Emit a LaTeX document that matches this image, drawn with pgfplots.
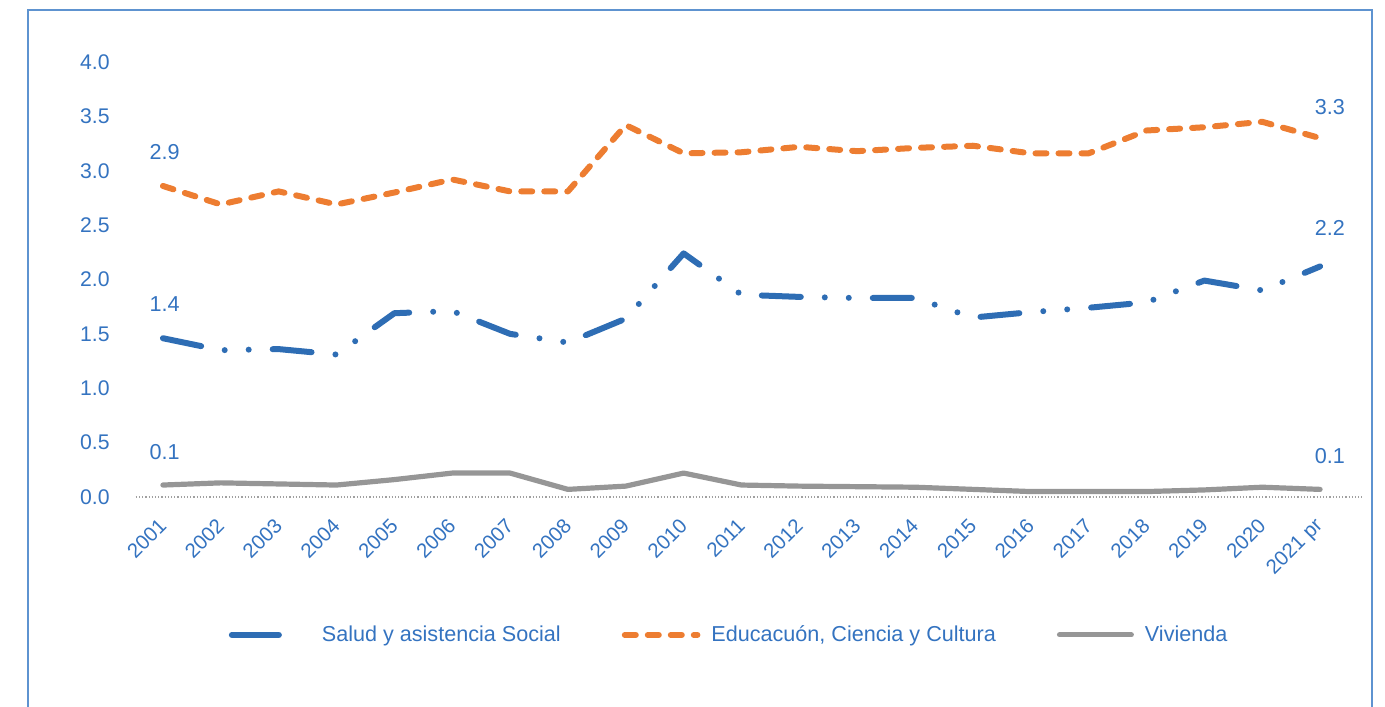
\documentclass[border=0pt]{standalone}
\usepackage{fontspec}
\setmainfont{Liberation Sans}
\usepackage{pgfplots}
\pgfplotsset{compat=1.18}
\definecolor{cblue}{RGB}{46,109,180}
\definecolor{corange}{RGB}{237,125,49}
\definecolor{cgray}{RGB}{150,150,150}
\definecolor{ctext}{RGB}{52,115,192}
\definecolor{cframe}{RGB}{94,147,208}
\definecolor{czero}{RGB}{160,160,160}
\pgfplotsset{
  bluelegend/.style={legend image code/.code={\draw[cblue, solid, line width=3pt, line cap=round] (1.5pt,0pt) -- (25pt,0pt); \path[draw=none] (0pt,0pt) -- (41pt,0pt);}},
  orangelegend/.style={legend image code/.code={\draw[##1] (1.5pt,0pt) -- (37.8pt,0pt); \path[draw=none] (0pt,0pt) -- (39pt,0pt);}},
  graylegend/.style={legend image code/.code={\draw[##1] (1.3pt,0pt) -- (37.2pt,0pt);}},
}
\begin{document}
\fontsize{10.8}{13}\selectfont
\begin{tikzpicture}[x=1pt,y=1pt]
\useasboundingbox (0,0) rectangle (692.5,353);
\draw[cframe, line width=1pt] (14,-10) rectangle (686,348);
\begin{axis}[
  at={(67pt,104.5pt)}, anchor=south west,
  scale only axis, width=607.5pt, height=217.5pt,
  xmin=-0.5, xmax=20.5, ymin=0, ymax=4,
  axis line style={draw=none},
  major tick length=0pt,
  clip=false,
  xtick={0,...,20},
  xticklabels={2001,2002,2003,2004,2005,2006,2007,2008,2009,2010,2011,2012,2013,2014,2015,2016,2017,2018,2019,2020,2021 pr},
  ytick={0,0.5,...,4},
  /pgf/number format/fixed, /pgf/number format/fixed zerofill, /pgf/number format/precision=1, /pgf/number format/assume math mode=true,
  yticklabel style={anchor=east, inner sep=0pt, xshift=-12pt, text=ctext, font=\fontsize{10.6}{13}\selectfont},
  xticklabel style={rotate=45, anchor=east, inner sep=0pt, xshift=-9pt, yshift=-9pt, text=ctext, font=\fontsize{10.2}{12}\selectfont},
  legend columns=3,
  legend style={draw=none, fill=none, at={(0.489,-0.317)}, anchor=center,
    font=\fontsize{10.8}{13}\selectfont, text=ctext,
    nodes={inner sep=0pt}, cells={anchor=west},
    /tikz/every odd column/.append style={column sep=5.5pt},
    /tikz/every even column/.append style={column sep=30.5pt}},
]
\addplot[czero, line width=0.6pt, dash pattern=on 0.6pt off 1pt, forget plot] coordinates {(-0.47,0) (20.73,0)};

\addplot[cblue, line width=3pt, line cap=round, line join=round,
  dash pattern=on 19.5pt off 12pt on 0pt off 12pt on 0pt off 12pt, bluelegend]
coordinates {(0,1.46) (1,1.35) (2,1.36) (3,1.31) (4,1.69) (5,1.71) (6,1.50) (7,1.42) (8,1.64) (9,2.24) (10,1.86) (11,1.84) (12,1.83) (13,1.83) (14,1.65) (15,1.70) (16,1.74) (17,1.79) (18,1.99) (19,1.90) (20,2.12)};
\addlegendentry{Salud y asistencia Social}

\addplot[corange, line width=3pt, line cap=round, line join=round,
  dash pattern=on 5.5pt off 6pt, orangelegend]
coordinates {(0,2.86) (1,2.69) (2,2.81) (3,2.69) (4,2.80) (5,2.92) (6,2.81) (7,2.81) (8,3.42) (9,3.16) (10,3.17) (11,3.22) (12,3.18) (13,3.21) (14,3.23) (15,3.16) (16,3.16) (17,3.37) (18,3.40) (19,3.45) (20,3.30)};
\addlegendentry{Educacuón, Ciencia y Cultura}

\addplot[cgray, line width=2.6pt, line cap=round, line join=round, graylegend]
coordinates {(0,0.11) (1,0.13) (2,0.12) (3,0.11) (4,0.16) (5,0.22) (6,0.22) (7,0.07) (8,0.10) (9,0.22) (10,0.11) (11,0.10) (12,0.095) (13,0.09) (14,0.07) (15,0.05) (16,0.05) (17,0.05) (18,0.065) (19,0.09) (20,0.07)};
\addlegendentry{Vivienda}

\tikzset{lbl/.style={text=ctext, font=\fontsize{10.8}{13}\selectfont, inner sep=0pt}}
\node[lbl] at (axis cs:0.03,3.17) {2.9};
\node[lbl] at (axis cs:0.03,1.77) {1.4};
\node[lbl] at (axis cs:0.03,0.41) {0.1};
\node[lbl] at (axis cs:20.17,3.59) {3.3};
\node[lbl] at (axis cs:20.17,2.47) {2.2};
\node[lbl] at (axis cs:20.17,0.38) {0.1};
\end{axis}
\end{tikzpicture}
\end{document}
